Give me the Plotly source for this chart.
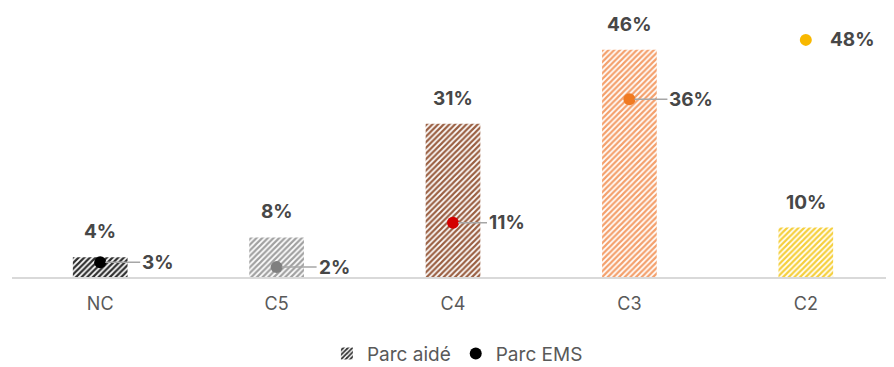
import plotly.graph_objects as go

categories = ["NC", "C5", "C4", "C3", "C2"]
parc_aide = [4, 8, 31, 46, 10]
parc_ems = [3, 2, 11, 36, 48]
bar_colors = ["#2e2e2e", "#a0a0a0", "#9a5f42", "#f4a06c", "#f5cf3c"]
dot_colors = ["#000000", "#7f7f7f", "#d40000", "#f07a22", "#f8b800"]

FONT = "Inter, Roboto, 'Noto Sans', sans-serif"
LBL = "#474747"

fig = go.Figure()
fig.add_trace(go.Bar(
    x=categories, y=parc_aide, name="Parc aidé",
    marker=dict(color=bar_colors, line=dict(width=0),
                pattern=dict(shape="/", fgcolor=bar_colors, bgcolor="white",
                             size=4, solidity=0.55, fillmode="replace")),
    hoverinfo="skip",
))
fig.add_trace(go.Scatter(
    x=categories, y=parc_ems, name="Parc EMS", mode="markers",
    marker=dict(color=dot_colors, size=12),
    hoverinfo="skip",
))

# bar value labels
for c, v in zip(categories, parc_aide):
    fig.add_annotation(x=c, y=v, text=f"<b>{v}%</b>", showarrow=False,
                       yanchor="bottom", yshift=12,
                       font=dict(family=FONT, size=19, color=LBL))

# point labels with leader lines
offsets = [40, 40, 34, 38, 22]
leaders = [True, True, True, True, False]
for c, v, off, lead in zip(categories, parc_ems, offsets, leaders):
    if lead:
        fig.add_annotation(x=c, y=v, text=f"<b>{v}%</b>", showarrow=True,
                           arrowhead=0, arrowwidth=1.5, arrowcolor="#a6a6a6",
                           ax=off, ay=0, xanchor="left", standoff=5,
                           font=dict(family=FONT, size=19, color=LBL))
    else:
        fig.add_annotation(x=c, y=v, text=f"<b>{v}%</b>", showarrow=False,
                           xanchor="left", xshift=off,
                           font=dict(family=FONT, size=19, color=LBL))

fig.update_layout(
    width=894, height=367,
    margin=dict(l=4, r=8, t=22, b=98, autoexpand=False),
    paper_bgcolor="white", plot_bgcolor="white",
    bargap=0.69,
    showlegend=True,
    legend=dict(orientation="h", x=0.505, xanchor="center", y=-0.31, yanchor="middle",
                font=dict(family=FONT, size=19, color="#595959"),
                itemwidth=30, traceorder="normal"),
    xaxis=dict(showline=True, linecolor="#d9d9d9", linewidth=2, showgrid=False,
               ticks="", ticklabelstandoff=9, automargin=False,
               tickfont=dict(family=FONT, size=18, color="#595959"),
               fixedrange=True),
    yaxis=dict(range=[0, 50], visible=False, showgrid=False, zeroline=False,
               automargin=False),
    font=dict(family=FONT),
)

fig.write_html("out.html")
